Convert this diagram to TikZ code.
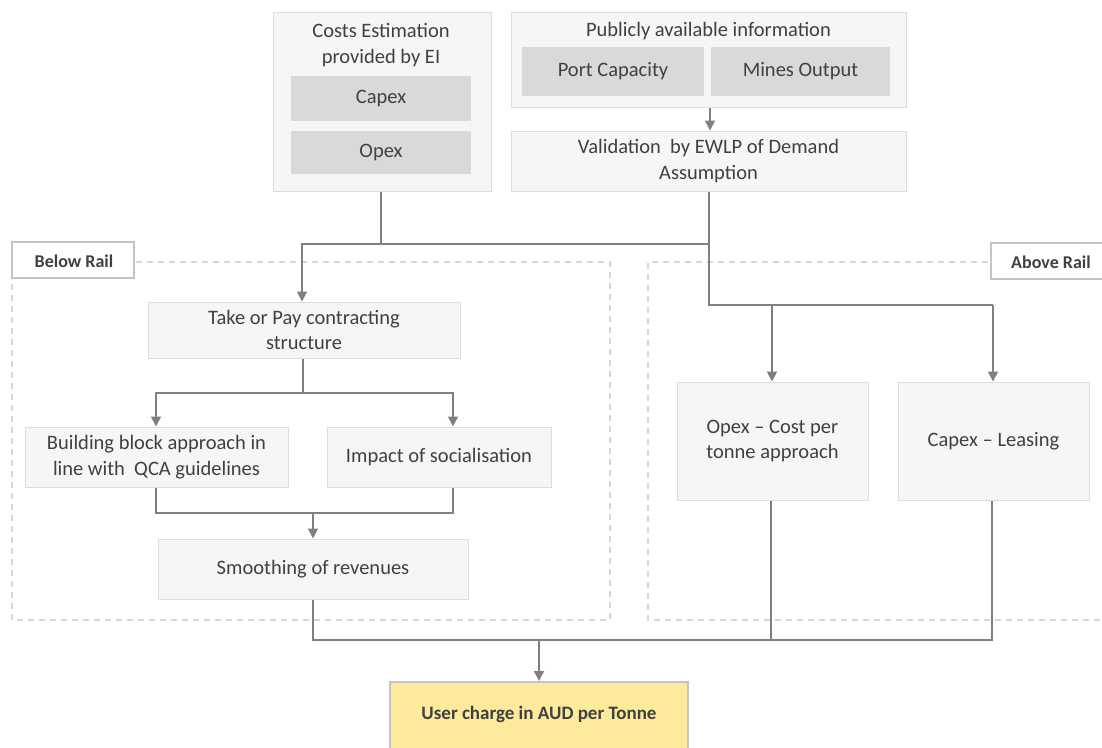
\documentclass[tikz,border=0pt]{standalone}
\usepackage{fontspec}
\setmainfont{Carlito}
\usetikzlibrary{arrows.meta}
\definecolor{txt}{HTML}{404040}
\definecolor{boxfill}{HTML}{F5F6F6}
\definecolor{boxline}{HTML}{DCDDDD}
\definecolor{inner}{HTML}{D9D9D9}
\definecolor{conn}{HTML}{7F7F7F}
\definecolor{dash}{HTML}{D6D6D6}
\definecolor{tagline}{HTML}{C4C4C4}
\definecolor{result}{HTML}{FDEA9B}
\tikzset{
  x=1pt, y=-1pt,
  every node/.style={text=txt, font=\fontsize{20.5}{25.5}\selectfont, inner sep=0pt, align=center},
  card/.style={draw=boxline, fill=boxfill, line width=1pt},
  subcard/.style={fill=inner, draw=none},
  tag/.style={draw=tagline, fill=white, line width=2.2pt},
  tagtext/.style={font=\bfseries\fontsize{18}{21}\selectfont},
  region/.style={draw=dash, line width=1.2pt, dash pattern=on 6pt off 5pt},
  link/.style={draw=conn, line width=1.6pt},
  flow/.style={link, -{Triangle[width=10pt,length=10pt]}},
}
\newcommand{\boxat}[6]{% name, x1, y1, x2, y2, style
  \node[#6, minimum width={#4-#2}, minimum height={#5-#3}] (#1) at ({(#2+#4)/2},{(#3+#5)/2}) {};}
\begin{document}
\begin{tikzpicture}
\useasboundingbox (0,0) rectangle (1102,747);
\begin{scope}
\clip (0,0) rectangle (1102,747);

% dashed regions
\draw[region] (12,262) rectangle (610,620);
\draw[region] (1120,262) -- (648,262) -- (648,620) -- (1120,620);

% region tags
\boxat{below}{12}{242}{134}{278}{tag}
\node[tagtext] (belowtxt) at (74,261) {Below Rail};
\boxat{above}{991}{243}{1130}{279}{tag}
\node[tagtext] (abovetxt) at (1051,262) {Above Rail};

% inputs
\boxat{costs}{273}{12}{491}{191}{card}
\node (coststxt) at (381,45) {Costs Estimation\\provided by EI};
\boxat{capex}{291}{76}{471}{121}{subcard}
\node at (capex) {Capex};
\boxat{opex}{291}{131}{471}{174}{subcard}
\node at (opex) {Opex};

\boxat{public}{511}{12}{906}{107}{card}
\node (publictxt) at (708.5,31) {Publicly available information};
\boxat{port}{522}{47}{704}{96}{subcard}
\node at (port) {Port Capacity};
\boxat{mines}{711}{47}{890}{96}{subcard}
\node at (mines) {Mines Output};

\boxat{valid}{511}{131}{906}{191}{card}
\node at (valid) {Validation \ by EWLP of Demand\\Assumption};

% below rail
\boxat{top}{148}{302}{460}{358}{card}
\node at (top) {Take or Pay contracting\\structure};
\boxat{build}{25}{427}{288}{487}{card}
\node at (build) {Building block approach in\\line with \ QCA guidelines};
\boxat{impact}{327}{427}{551}{487}{card}
\node at (impact) {Impact of socialisation};
\boxat{smooth}{158}{539}{468}{599}{card}
\node at (smooth) {Smoothing of revenues};

% above rail
\boxat{opexc}{677}{382}{868}{500}{card}
\node at (opexc) {Opex – Cost per\\tonne approach};
\boxat{capexl}{898}{382}{1089}{500}{card}
\node at (capexl) {Capex – Leasing};

% result
\node[draw=tagline, fill=result, line width=2.2pt, minimum width=298pt, minimum height=80pt, anchor=north] (user) at (539,681) {};
\node[font=\bfseries\fontsize{19}{22}\selectfont] at (539,714) {User charge in AUD per Tonne};

% connectors
\coordinate (j1) at (709,244);
\coordinate (j2) at (709,305);
\draw[flow] (public.south -| 710,0) -- (valid.north -| 710,0);
\draw[link] (costs.south -| 381,0) -- (381,244);
\draw[link] (valid.south -| 709,0) -- (j2) -- (993,305);
\draw[flow] (j1) -- (302,244) -- (top.north -| 302,0);
\draw[flow] (772,305) -- (opexc.north -| 772,0);
\draw[flow] (993,305) -- (capexl.north -| 993,0);

\draw[link] (top.south -| 303,0) -- (303,393);
\draw[flow] (303,393) -| (build.north -| 156,0);
\draw[flow] (303,393) -| (impact.north -| 453,0);

\draw[link] (build.south -| 156,0) |- (453,513) -- (impact.south -| 453,0);
\draw[flow] (313,513) -- (smooth.north -| 313,0);

\draw[link] (smooth.south -| 313,0) |- (992,640) -- (capexl.south -| 992,0);
\draw[link] (opexc.south -| 771,0) -- (771,640);
\draw[flow] (539,640) -- (user.north);
\end{scope}
\end{tikzpicture}
\end{document}
